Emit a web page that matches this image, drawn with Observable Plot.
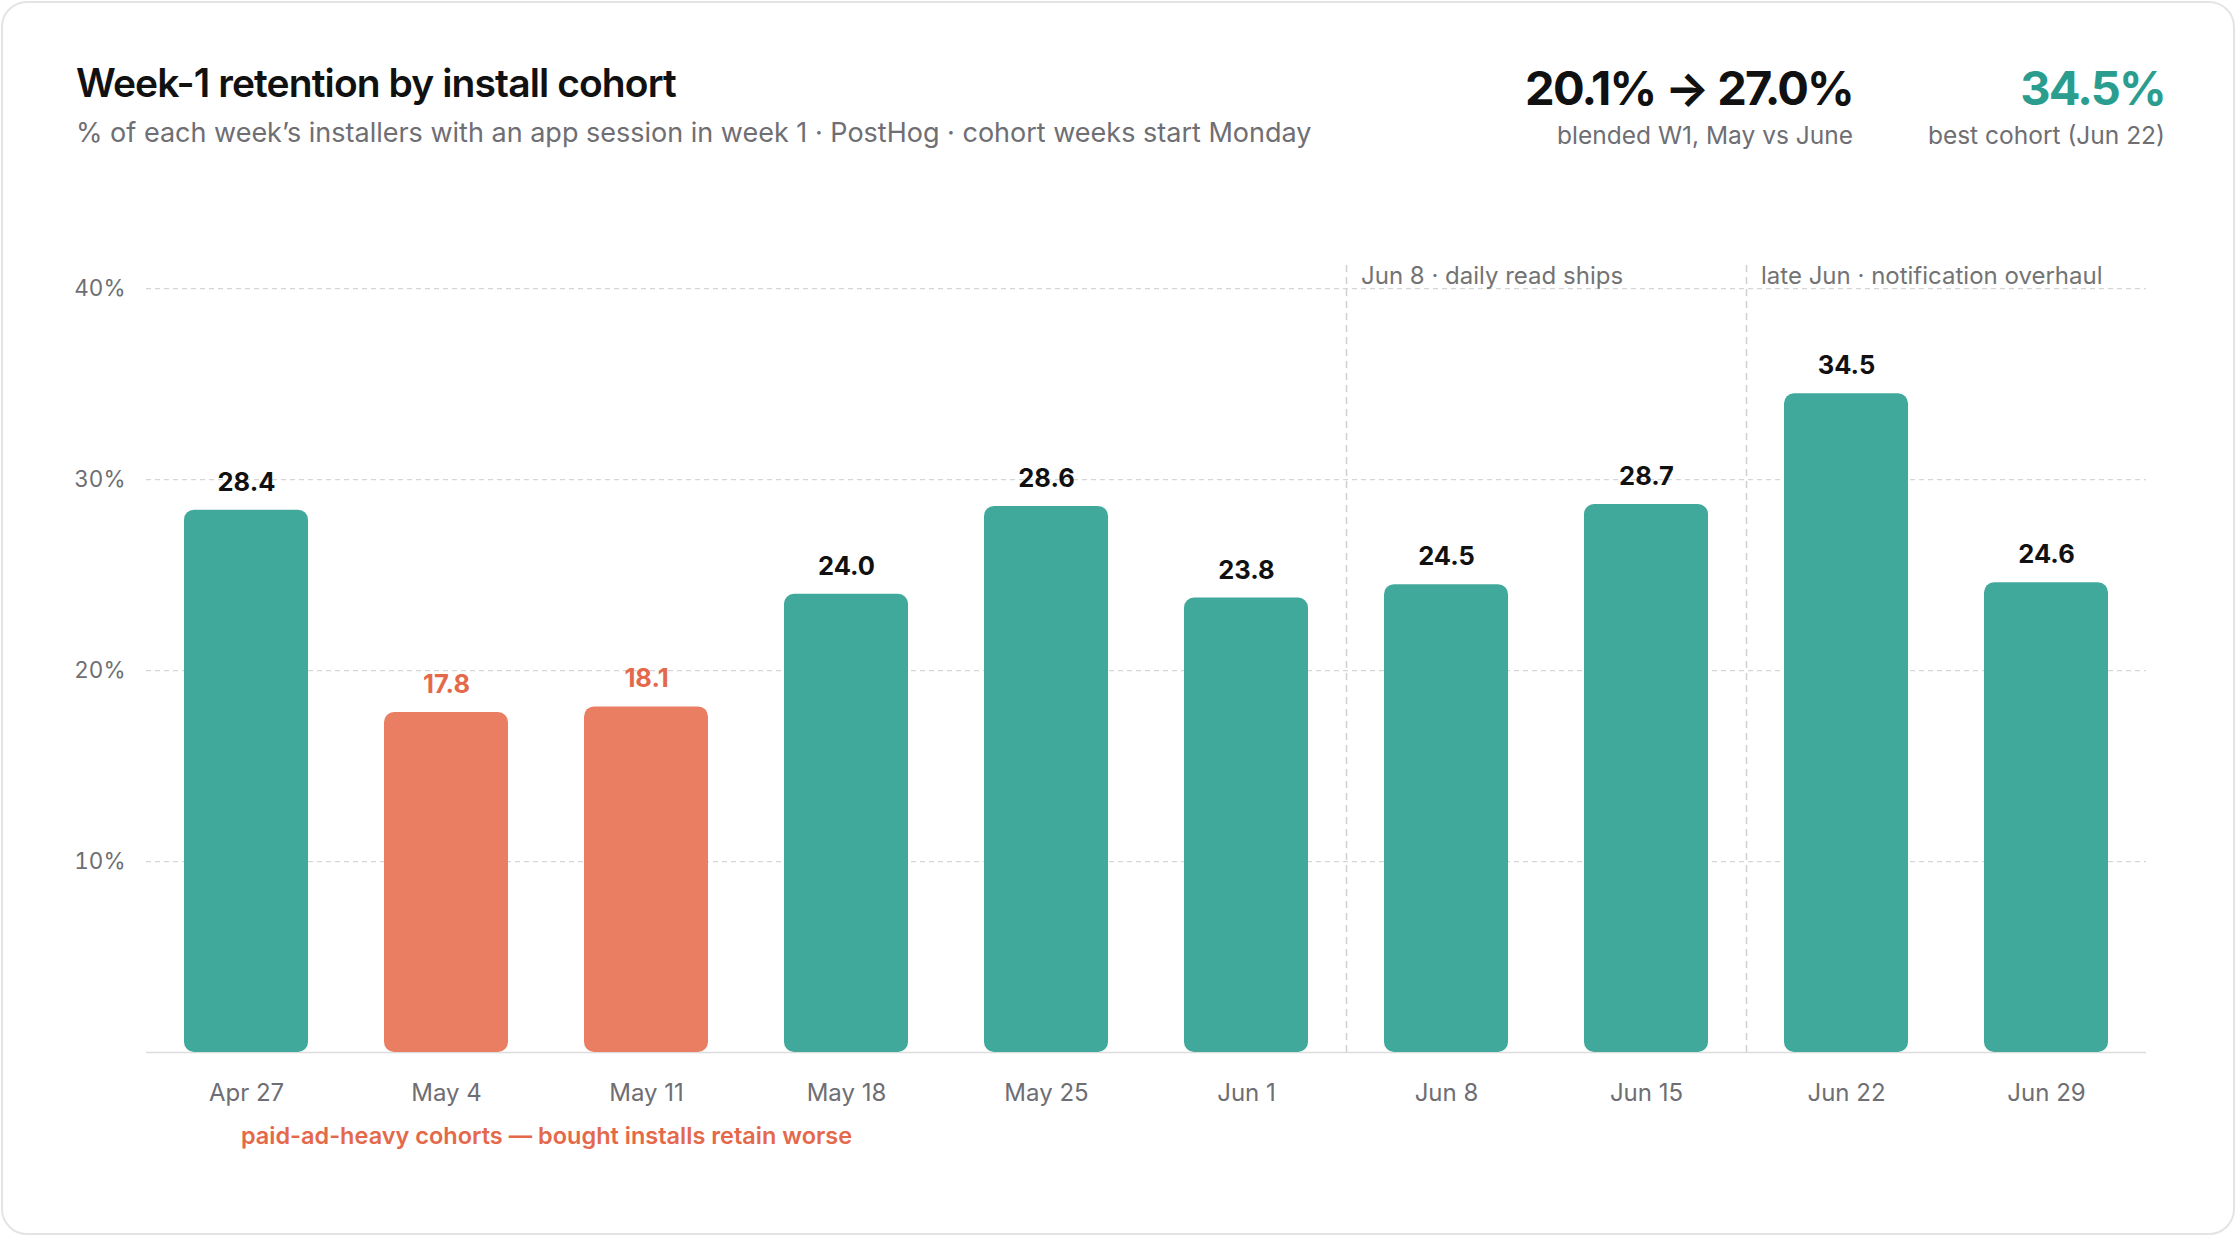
<!DOCTYPE html>
<html>
<head>
<meta charset="utf-8">
<script src="https://cdn.jsdelivr.net/npm/d3@7"></script>
<script src="https://cdn.jsdelivr.net/npm/@observablehq/plot@0.6"></script>
<style>
  html, body { margin: 0; padding: 0; background: #ffffff; }
  body { width: 2240px; height: 1240px; position: relative; overflow: hidden; font-family: Inter, "Noto Sans", sans-serif; }
  .card { position: absolute; left: 1px; top: 1px; width: 2234px; height: 1234px; border: 2px solid #e4e4e4; border-radius: 26px; box-sizing: border-box; background: #fff; }
  .t { position: absolute; line-height: 1; white-space: nowrap; }
  #title { left: 76px; top: 63px; font-size: 39px; font-weight: 600; color: #111; letter-spacing: -0.9px; }
  #subtitle { left: 76px; top: 119px; font-size: 27px; font-weight: 400; color: #6e6e73; }
  .kpi { font-size: 47px; font-weight: 700; color: #111; text-align: right; letter-spacing: -1.8px; }
  .kpisub { font-size: 24.5px; font-weight: 400; color: #6e6e73; text-align: right; }
  #chart { position: absolute; left: 0; top: 200px; }
</style>
</head>
<body>
<div class="card"></div>
<div class="t" id="title">Week-1 retention by install cohort</div>
<div class="t" id="subtitle">% of each week’s installers with an app session in week 1 · PostHog · cohort weeks start Monday</div>
<div class="t kpi" id="kpi1" style="right:387px; top:64px;">20.1% → 27.0%</div>
<div class="t kpisub" id="kpi1s" style="right:387px; top:123px;">blended W1, May vs June</div>
<div class="t kpi" id="kpi2" style="right:75px; top:64px; color:#2a9d8f;">34.5%</div>
<div class="t kpisub" id="kpi2s" style="right:75px; top:123px;">best cohort (Jun 22)</div>
<div id="chart"></div>
<script>
// ---- data ----
const weeks = ["Apr 27", "May 4", "May 11", "May 18", "May 25", "Jun 1", "Jun 8", "Jun 15", "Jun 22", "Jun 29"];
const retention = [28.4, 17.8, 18.1, 24.0, 28.6, 23.8, 24.5, 28.7, 34.5, 24.6];
const paidHeavy = [false, true, true, false, false, false, false, false, false, false];
const yTicks = [10, 20, 30, 40];
const eventWeeks = ["Jun 8", "Jun 22"];
const eventLabels = ["Jun 8 · daily read ships", "late Jun · notification overhaul"];
const paidNoteAfter = "May 4";
const paidNote = "paid-ad-heavy cohorts — bought installs retain worse";

const TEAL = "#41a99b";
const ORANGE = "#ea7e63";
const ORANGE_TEXT = "#e4694b";

const rows = weeks.map((w, i) => ({week: w, value: retention[i], paid: paidHeavy[i]}));
const events = eventWeeks.map((w, i) => ({week: w, label: eventLabels[i]}));

const chart = Plot.plot({
  width: 2240,
  height: 1000,
  marginLeft: 146,
  marginRight: 94,
  marginTop: 50,
  marginBottom: 148,
  style: {fontFamily: "Inter, 'Noto Sans', sans-serif", color: "#6e6e73", background: "transparent", overflow: "visible"},
  x: {domain: weeks, paddingInner: 0.38, paddingOuter: 0.19, label: null},
  y: {domain: [0, 42], label: null},
  marks: [
    Plot.gridY(yTicks, {stroke: "#d6d6d6", strokeOpacity: 1, strokeDasharray: "5,4", strokeWidth: 1.3}),
    Plot.ruleY([0], {stroke: "#dcdcdc", strokeWidth: 1.6}),
    Plot.ruleX(events, {x: "week", y1: 0, y2: 41.45, dx: -100, stroke: "#d0d0d0", strokeWidth: 1.5, strokeDasharray: "7,5"}),
    Plot.text(events, {x: "week", y: 40.25, text: "label", dx: -100 + 14.5, textAnchor: "start", lineAnchor: "bottom", fontSize: 24, fill: "#737373"}),
    Plot.barY(rows, {x: "week", y: "value", fill: d => d.paid ? ORANGE : TEAL, rx: 10, ry: 10}),
    Plot.text(rows, {x: "week", y: "value", text: d => d.value.toFixed(1), dy: -19.5, lineAnchor: "bottom", fontSize: 25.5, fontWeight: 700, fill: d => d.paid ? ORANGE_TEXT : "#111"}),
    Plot.text([paidNote], {x: () => paidNoteAfter, y: 0, text: d => d, dx: 100, dy: 91.3, lineAnchor: "bottom", fontSize: 23.5, fontWeight: 600, fill: ORANGE_TEXT}),
    Plot.axisY({ticks: yTicks, tickSize: 0, tickPadding: 21, tickFormat: d => d + "%", fontSize: 22.5}),
    Plot.axisX({tickSize: 0, tickPadding: 31, fontSize: 24})
  ]
});
document.getElementById("chart").appendChild(chart);
</script>
</body>
</html>
